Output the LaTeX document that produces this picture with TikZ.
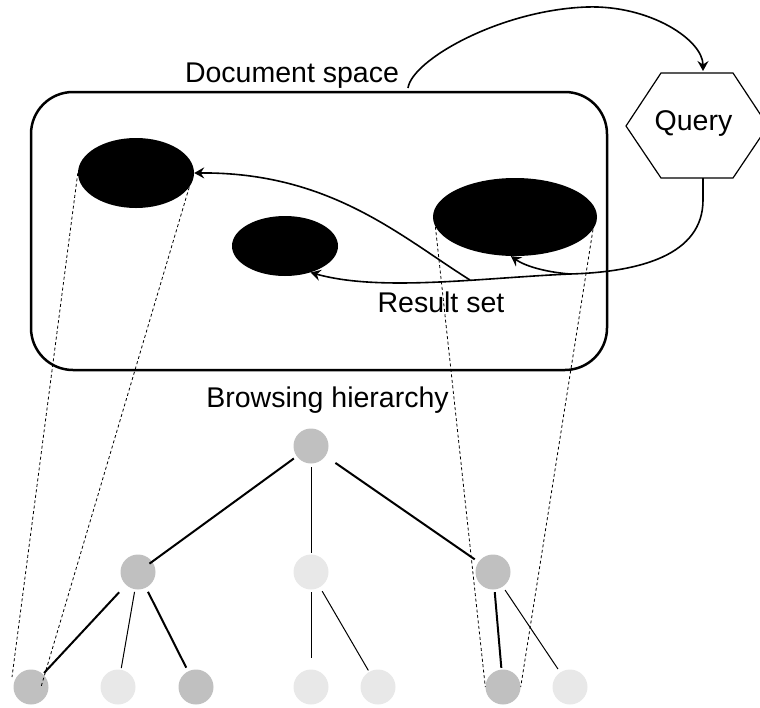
\documentclass[tikz,border=0pt]{standalone}
\usepackage{fontspec}
\setmainfont{Liberation Sans}
\usetikzlibrary{arrows.meta,shapes.geometric,calc}
\definecolor{nodedark}{HTML}{C0C0C0}
\definecolor{nodelight}{HTML}{E8E8E8}

\begin{document}
\begin{tikzpicture}[x=1pt,y=-1pt,
  lbl/.style={font=\fontsize{28.5}{34}\selectfont, inner sep=0pt, anchor=base},
  doc/.style={ellipse, fill=black, draw=none, inner sep=0pt},
  tnode/.style={circle, minimum size=35pt, inner sep=0pt, draw=none},
  hi/.style={tnode, fill=nodedark},
  lo/.style={tnode, fill=nodelight},
  boldedge/.style={line width=2pt},
  lightedge/.style={line width=1pt},
  flow/.style={line width=1.6pt},
  tip/.style={-{Stealth[length=10pt,width=11pt,inset=3.5pt]}},
  proj/.style={line width=0.8pt, dash pattern=on 3pt off 2.5pt},
]
\useasboundingbox (0,0) rectangle (760,707);
\clip (0,0) rectangle (760,707);

% document space
\node[draw, rounded corners=42pt, line width=2.5pt,
      minimum width=576pt, minimum height=278pt] (space) at (319,231) {};
\node[lbl] (docspace) at (292,82) {Document space};

% documents
\node[doc, minimum width=116pt, minimum height=70pt] (d1) at (136,173) {};
\node[doc, minimum width=106pt, minimum height=60pt] (d2) at (285,246) {};
\node[doc, minimum width=164pt, minimum height=78pt] (d3) at (515,217) {};

% query
\draw[line width=1.2pt] (626,126) -- (661,73) -- (733,73) -- (768,126)
      -- (733,178) -- (661,178) -- cycle;
\node[lbl] (query) at (693.5,130) {Query};
\coordinate (qs) at (408,88);
\coordinate (qtop) at (703,71);
\coordinate (qbot) at (703,178);
\coordinate (rs) at (570,274);
\coordinate (rj) at (470,280);

\draw[flow, tip] (qs) .. controls (412,60) and (500,10) .. (587,7)
      .. controls (650,5) and (703,40) .. (qtop);
\draw[flow, tip] (qbot) -- (703,200) .. controls (703,255) and (640,272) .. (rs)
      .. controls (480,278) and (380,292) .. (d2.-46);
\draw[flow, tip] (rs) .. controls (545,272) and (525,266) .. (d3.-96);
\draw[flow, tip] (rj) .. controls (400,236) and (330,172) .. (d1.east);

\node[lbl] (result) at (441,312) {Result set};
\node[lbl] (browse) at (327.5,407) {Browsing hierarchy};

% browsing hierarchy
\node[hi] (root) at (311,446) {};
\node[hi] (l2a) at (138,572) {};
\node[lo] (l2b) at (311,572) {};
\node[hi] (l2c) at (493,572) {};
\node[hi] (l3a) at (31,687) {};
\node[lo] (l3b) at (118,687) {};
\node[hi] (l3c) at (196,687) {};
\node[lo] (l3d) at (311,687) {};
\node[lo] (l3e) at (378,687) {};
\node[hi] (l3f) at (503,687) {};
\node[lo] (l3g) at (570,687) {};

\draw[boldedge, shorten <=3.5pt, shorten >=-3.5pt] (root) -- (l2a);
\draw[lightedge, shorten <=3.5pt, shorten >=1.5pt] (root) -- (l2b);
\draw[boldedge, shorten <=12pt, shorten >=4.5pt] (root) -- (l2c);
\draw[boldedge, shorten <=10pt, shorten >=1.5pt] (l2a) -- (l3a);
\draw[lightedge, shorten <=2.5pt, shorten >=1.5pt] (l2a) -- (l3b);
\draw[boldedge, shorten <=4.5pt, shorten >=4pt] (l2a) -- (l3c);
\draw[lightedge, shorten <=2.5pt, shorten >=11.5pt] (l2b) -- (l3d);
\draw[lightedge, shorten <=4.5pt, shorten >=1.5pt] (l2b) -- (l3e);
\draw[boldedge, shorten <=2.5pt, shorten >=1.5pt] (l2c) -- (l3f);
\draw[lightedge, shorten <=4pt, shorten >=4pt] (l2c) -- (l3g);

% projections of documents onto the hierarchy
\coordinate (pa) at (12,677);
\coordinate (pb) at (41,687);
\draw[proj] (d1.west) -- (pa);
\draw[proj] (d1.-15) -- (pb);
\draw[proj] (d3.187) -- (l3f.west);
\draw[proj] (d3.-9) -- (l3f.east);
\end{tikzpicture}
\end{document}
